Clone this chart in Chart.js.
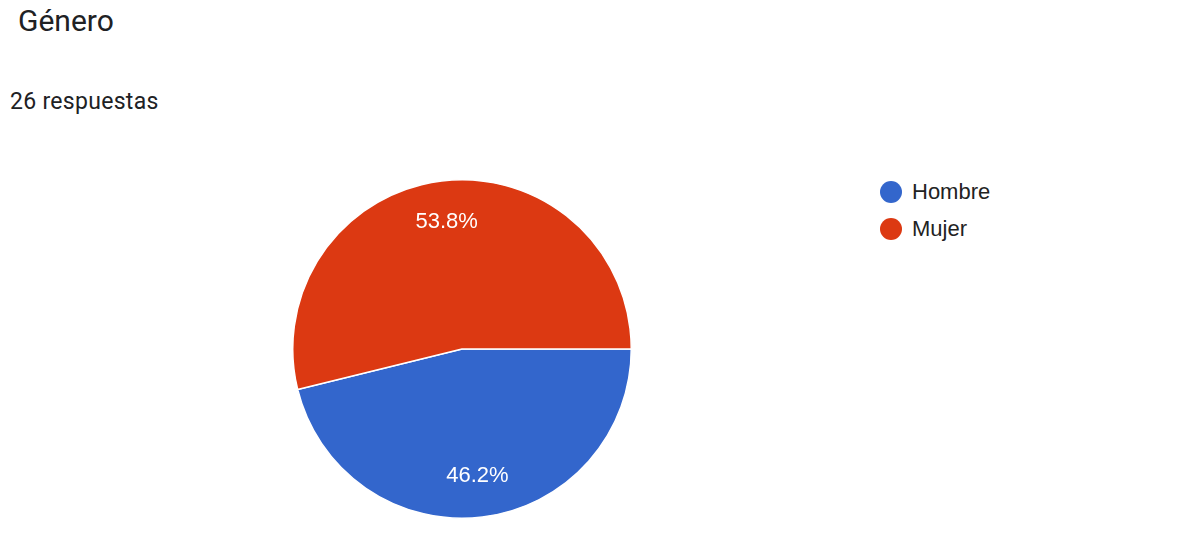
<!DOCTYPE html>
<html>
<head>
<meta charset="utf-8">
<script src="https://cdn.jsdelivr.net/npm/chart.js@4.4.1/dist/chart.umd.min.js"></script>
<style>
  html, body { margin: 0; padding: 0; background: #fff; }
  body { width: 1199px; height: 543px; position: relative; overflow: hidden; }
  #title { position: absolute; left: 18px; top: 6px; font-family: Roboto, sans-serif; font-size: 30px; line-height: 1; color: #202124; }
  #sub { position: absolute; left: 10px; top: 90px; font-family: Roboto, sans-serif; font-size: 23px; line-height: 1; color: #202124; letter-spacing: 0.3px; }
  #pieWrap { position: absolute; left: 292px; top: 179px; width: 340px; height: 340px; }
  #legend { position: absolute; left: 880px; top: 173px; font-family: "Liberation Sans", Arial, sans-serif; font-size: 22px; color: #222; }
  .item { display: flex; align-items: center; height: 37px; }
  .dot { width: 22px; height: 22px; border-radius: 50%; margin-right: 10px; }
</style>
</head>
<body>
<div id="title">Género</div>
<div id="sub">26 respuestas</div>
<div id="pieWrap"><canvas id="pieChart"></canvas></div>
<div id="legend"></div>
<script>
const categorias = ['Hombre', 'Mujer'];
const respuestas = [12, 14];
const colores = ['#3366cc', '#dc3912'];

// leyenda a la derecha
const legendEl = document.getElementById('legend');
categorias.forEach((c, i) => {
    const row = document.createElement('div');
    row.className = 'item';
    row.innerHTML = `<span class="dot" style="background:${colores[i]}"></span><span>${c}</span>`;
    legendEl.appendChild(row);
});

// porcentajes dentro de cada porción
const pctLabels = {
    id: 'pctLabels',
    afterDatasetsDraw(chart) {
        const ctx = chart.ctx;
        const meta = chart.getDatasetMeta(0);
        const data = chart.data.datasets[0].data;
        const total = data.reduce((a, b) => a + b, 0);
        ctx.save();
        ctx.fillStyle = '#ffffff';
        ctx.font = '22px "Liberation Sans", Arial, sans-serif';
        ctx.textAlign = 'center';
        ctx.textBaseline = 'middle';
        meta.data.forEach((arc, i) => {
            const mid = (arc.startAngle + arc.endAngle) / 2;
            const r = arc.outerRadius * 0.755;
            const x = arc.x + Math.cos(mid) * r;
            const y = arc.y + Math.sin(mid) * r;
            ctx.fillText((data[i] / total * 100).toFixed(1) + '%', x, y);
        });
        ctx.restore();
    }
};

new Chart(document.getElementById('pieChart').getContext('2d'), {
    type: 'pie',
    data: {
        labels: categorias,
        datasets: [{
            data: respuestas,
            backgroundColor: colores,
            borderColor: '#ffffff',
            borderWidth: 1.5
        }]
    },
    options: {
        responsive: true,
        maintainAspectRatio: false,
        animation: false,
        rotation: 90,
        layout: { padding: 0 },
        plugins: {
            legend: { display: false },
            tooltip: { enabled: false }
        }
    },
    plugins: [pctLabels]
});
</script>
</body>
</html>
